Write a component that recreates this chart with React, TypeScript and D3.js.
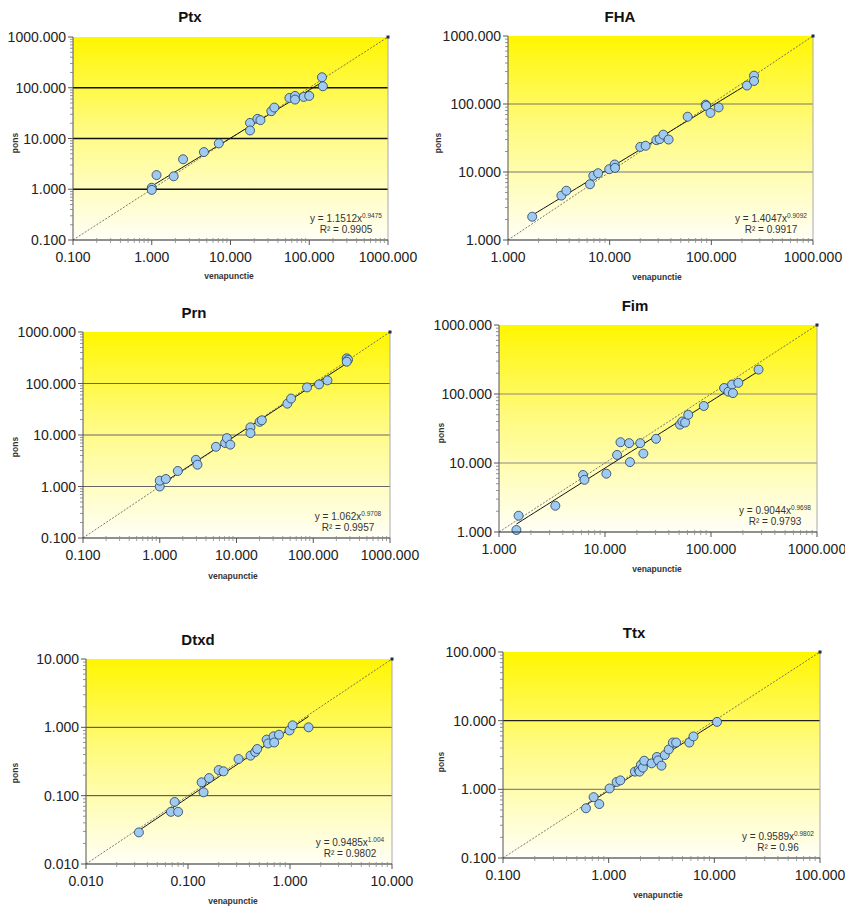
import React from "react";
import * as d3 from "d3";

// ---------- data ----------
const titles = ["Ptx", "FHA", "Prn", "Fim", "Dtxd", "Ttx"];
const domains: [number, number][] = [
  [0.1, 1000], [1, 1000], [0.1, 1000], [1, 1000], [0.01, 10], [0.1, 100],
];
const coefA = ["1.1512", "1.4047", "1.062", "0.9044", "0.9485", "0.9589"];
const coefB = ["0.9475", "0.9092", "0.9708", "0.9698", "1.004", "0.9802"];
const rSquared = ["0.9905", "0.9917", "0.9957", "0.9793", "0.9802", "0.96"];

const ptxX = [1.0, 1.0, 1.15, 1.9, 2.5, 4.6, 7.1, 17.7, 17.7, 22, 24, 33, 36, 56, 66, 66, 85, 100, 145, 149];
const ptxY = [1.07, 0.97, 1.9, 1.8, 3.9, 5.4, 8.0, 20.3, 14.4, 24.4, 23, 34.5, 40.7, 63, 69, 58.5, 66, 69, 161, 107];

const fhaX = [1.73, 3.35, 3.75, 6.4, 6.9, 7.7, 9.9, 11.2, 11.3, 20, 22.6, 28.8, 31, 33.7, 38, 58.5, 88, 89, 98, 118, 224, 263, 263];
const fhaY = [2.2, 4.5, 5.3, 6.6, 8.8, 9.6, 11.0, 12.9, 11.5, 23.4, 24.3, 29.4, 30.4, 35.4, 30, 65, 98, 94, 74, 89, 187, 261, 218];

const prnX = [1.0, 1.0, 1.2, 1.72, 2.96, 3.1, 5.4, 7.1, 7.5, 8.3, 15.2, 15.2, 20, 21.4, 46, 51.4, 83, 119, 153, 273, 284, 273];
const prnY = [1.0, 1.3, 1.4, 2.0, 3.3, 2.65, 5.9, 7.0, 8.7, 6.5, 14.1, 10.9, 18, 19.3, 40.6, 51, 84, 96, 115, 308, 290, 265];

const fimX = [1.46, 1.53, 3.4, 6.2, 6.4, 10.3, 13, 14, 16.9, 17.2, 21.5, 23, 30.3, 51, 53.7, 57, 61, 85.5, 133, 146, 158, 161, 181, 281];
const fimY = [1.07, 1.72, 2.4, 6.7, 5.7, 7.0, 13.1, 20, 19.4, 10.3, 19.4, 13.7, 22.4, 36, 40, 38.6, 50, 67, 122, 108, 137, 103, 145, 226];

const dtxdX = [0.033, 0.068, 0.074, 0.08, 0.136, 0.142, 0.161, 0.2, 0.223, 0.313, 0.41, 0.456, 0.477, 0.59, 0.61, 0.69, 0.7, 0.78, 0.99, 1.06, 1.52];
const dtxdY = [0.029, 0.058, 0.081, 0.058, 0.157, 0.112, 0.181, 0.237, 0.227, 0.344, 0.385, 0.436, 0.482, 0.66, 0.58, 0.74, 0.6, 0.78, 0.9, 1.07, 1.0];

const ttxX = [0.61, 0.72, 0.815, 1.02, 1.19, 1.29, 1.77, 1.92, 1.96, 2.02, 2.11, 2.17, 2.55, 2.86, 2.94, 3.16, 3.4, 3.7, 4.05, 4.35, 5.8, 6.35, 10.6];
const ttxY = [0.53, 0.77, 0.61, 1.03, 1.28, 1.35, 1.81, 1.93, 1.81, 2.28, 2.07, 2.61, 2.39, 2.96, 2.64, 2.21, 3.16, 3.8, 4.8, 4.8, 4.8, 5.9, 9.6];

const xSeries = [ptxX, fhaX, prnX, fimX, dtxdX, ttxX];
const ySeries = [ptxY, fhaY, prnY, fimY, dtxdY, ttxY];

// ---------- layout / style ----------
const layouts = [
  { l: 73, t: 37, r: 388, b: 240, tx: 190, ty: 22, lx: 229, ly: 279, py: 143, px: 15 },
  { l: 508, t: 36, r: 813, b: 240, tx: 620, ty: 22, lx: 657, ly: 280, py: 143, px: 438 },
  { l: 83, t: 332, r: 390, b: 538, tx: 194, ty: 318, lx: 233, ly: 579, py: 447, px: 15 },
  { l: 499, t: 325, r: 817, b: 532, tx: 635, ty: 311, lx: 657, ly: 572, py: 433, px: 441 },
  { l: 86, t: 659, r: 392, b: 864, tx: 198, ty: 645, lx: 233, ly: 904, py: 773, px: 15 },
  { l: 503, t: 652, r: 820, b: 858, tx: 634, ty: 638, lx: 658, ly: 898, py: 762, px: 441 },
];
const gridColors = [
  ["#111", "#111", "#111"],
  ["#777", "#777"],
  ["#666", "#666", "#666"],
  ["#888", "#888"],
  ["#444", "#444"],
  ["#888", "#222"],
];
const gridWidths = [1.6, 1, 1.2, 1, 1, 1.3];
const FONT = "'Liberation Sans', Arial, Helvetica, sans-serif";

function Panel({ i }: { i: number }) {
  const L = layouts[i];
  const [d0, d1] = domains[i];
  const x = d3.scaleLog().domain([d0, d1]).range([L.l, L.r]);
  const y = d3.scaleLog().domain([d0, d1]).range([L.b, L.t]);
  const xs = xSeries[i];
  const ys = ySeries[i];
  const a = parseFloat(coefA[i]);
  const bexp = parseFloat(coefB[i]);
  const majors: number[] = [];
  for (let v = d0; v <= d1 * 1.0001; v *= 10) majors.push(v);
  const minors: number[] = [];
  majors.slice(0, -1).forEach((m) => {
    for (let k = 2; k <= 9; k++) minors.push(m * k);
  });
  const fmt = d3.format(".3f");
  const xmin = d3.min(xs) as number;
  const xmax = d3.max(xs) as number;
  const trendPts = d3.range(0, 41).map((k) => {
    const xv = xmin * Math.pow(xmax / xmin, k / 40);
    return [x(xv), y(a * Math.pow(xv, bexp))] as [number, number];
  });
  const line = d3.line();
  const gid = `grad${i}`;
  const inner = majors.slice(1, -1);
  const eqX = L.r - 42;
  return (
    <g>
      <defs>
        <linearGradient id={gid} x1="0" y1="0" x2="0" y2="1">
          <stop offset="0%" stopColor="#FFF600" />
          <stop offset="45%" stopColor="#FFFB80" />
          <stop offset="100%" stopColor="#FFFFF6" />
        </linearGradient>
        <clipPath id={`clip${i}`}>
          <rect x={L.l} y={L.t} width={L.r - L.l} height={L.b - L.t} />
        </clipPath>
      </defs>
      <rect x={L.l} y={L.t} width={L.r - L.l} height={L.b - L.t} fill={`url(#${gid})`} />
      {inner.map((v, k) => (
        <line key={k} x1={L.l} x2={L.r} y1={y(v)} y2={y(v)} stroke={gridColors[i][k] || "#777"} strokeWidth={gridWidths[i]} />
      ))}
      <line x1={L.r} x2={L.r} y1={L.t} y2={L.b} stroke="#aaa" strokeWidth={1} />
      {/* diagonal y = x */}
      <line x1={x(d0)} y1={y(d0)} x2={x(d1)} y2={y(d1)} stroke="#555" strokeWidth={0.8} strokeDasharray="2,1.5" />
      <rect x={x(d1) - 1.5} y={y(d1) - 1.5} width={3} height={3} fill="#1a2a5a" />
      {/* trend line */}
      <path d={line(trendPts) || ""} fill="none" stroke="#111" strokeWidth={1} clipPath={`url(#clip${i})`} />
      {/* points */}
      {xs.map((xv, k) => (
        <circle key={k} cx={x(xv)} cy={y(ys[k])} r={4.5} fill="#9FCBF0" stroke="#233a63" strokeWidth={0.8} />
      ))}
      {/* axes */}
      <line x1={L.l} x2={L.l} y1={L.t} y2={L.b} stroke="#555" strokeWidth={1} />
      <line x1={L.l} x2={L.r} y1={L.b} y2={L.b} stroke="#222" strokeWidth={1.2} />
      {majors.map((v, k) => (
        <g key={`ym${k}`}>
          <line x1={L.l - 5} x2={L.l} y1={y(v)} y2={y(v)} stroke="#555" />
          <text x={L.l - 7} y={y(v) + 5} textAnchor="end" fontSize={14} fill="#222" fontFamily={FONT}>{fmt(v)}</text>
          <line x1={x(v)} x2={x(v)} y1={L.b} y2={L.b + 5} stroke="#555" />
          <text x={x(v)} y={L.b + 22} textAnchor="middle" fontSize={14} fill="#222" fontFamily={FONT}>{fmt(v)}</text>
        </g>
      ))}
      {minors.map((v, k) => (
        <g key={`mn${k}`}>
          <line x1={L.l - 3} x2={L.l} y1={y(v)} y2={y(v)} stroke="#777" strokeWidth={0.8} />
          <line x1={x(v)} x2={x(v)} y1={L.b - 2} y2={L.b + 3} stroke="#888" strokeWidth={0.8} />
        </g>
      ))}
      {/* equation */}
      <text x={eqX} y={L.b - 18} textAnchor="middle" fontSize={10} fill="#333" fontFamily={FONT}>
        {`y = ${coefA[i]}x`}
        <tspan fontSize={6.5} dy={-4}>{coefB[i]}</tspan>
      </text>
      <text x={eqX} y={L.b - 7} textAnchor="middle" fontSize={10} fill="#333" fontFamily={FONT}>
        {`R² = ${rSquared[i]}`}
      </text>
      {/* titles */}
      <text x={L.tx} y={L.ty} textAnchor="middle" fontSize={15} fontWeight="bold" fill="#111" fontFamily={FONT}>{titles[i]}</text>
      <text x={L.lx} y={L.ly} textAnchor="middle" fontSize={8.5} fontWeight="bold" fill="#333" fontFamily={FONT}>venapunctie</text>
      <text transform={`translate(${L.px + 3},${L.py}) rotate(-90)`} textAnchor="middle" fontSize={8.5} fontWeight="bold" fill="#333" fontFamily={FONT}>pons</text>
    </g>
  );
}

export default function App() {
  return (
    <div style={{ position: "absolute", left: 0, top: 0, width: 845, height: 910, background: "#fff" }}>
      <svg width={845} height={910} viewBox="0 0 845 910" style={{ display: "block" }}>
        <rect x={0} y={0} width={845} height={910} fill="#fff" />
        {titles.map((_, i) => (
          <Panel key={i} i={i} />
        ))}
      </svg>
    </div>
  );
}
